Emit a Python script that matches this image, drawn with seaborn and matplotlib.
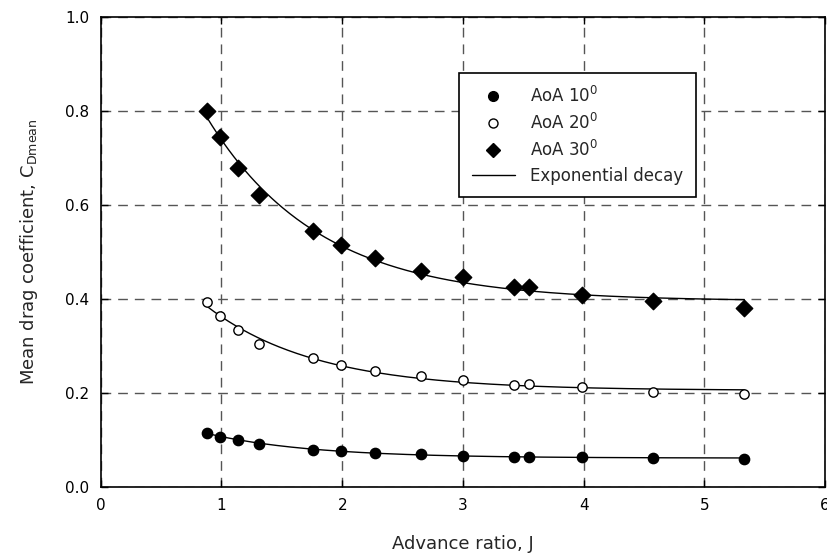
import numpy as np
import pandas as pd
import matplotlib
matplotlib.use("Agg")
import matplotlib.pyplot as plt
import seaborn as sns
from matplotlib.lines import Line2D

# ---- data ----
advance_ratio = [0.88, 0.99, 1.14, 1.31, 1.76, 1.99, 2.27, 2.65, 3.00, 3.42, 3.55, 3.99, 4.57, 5.33]
cd_aoa10 = [0.115, 0.106, 0.099, 0.091, 0.078, 0.076, 0.072, 0.069, 0.066, 0.063, 0.064, 0.063, 0.060, 0.059]
cd_aoa20 = [0.393, 0.362, 0.334, 0.304, 0.273, 0.259, 0.245, 0.236, 0.227, 0.217, 0.219, 0.212, 0.202, 0.197]
cd_aoa30 = [0.799, 0.745, 0.679, 0.621, 0.545, 0.515, 0.486, 0.459, 0.445, 0.425, 0.425, 0.408, 0.396, 0.380]
series_names = ["AoA 10", "AoA 20", "AoA 30"]
x_ticks = [0, 1, 2, 3, 4, 5, 6]
y_ticks = [0.0, 0.2, 0.4, 0.6, 0.8, 1.0]

df = pd.DataFrame({
    "J": advance_ratio * 3,
    "Cd": cd_aoa10 + cd_aoa20 + cd_aoa30,
    "series": [s for s in series_names for _ in advance_ratio],
})


def fit_exp_decay(x, y):
    """Least-squares fit y = y0 + a*exp(-b x) (grid over b)."""
    x = np.asarray(x); y = np.asarray(y)
    best = None
    for b in np.linspace(0.05, 5, 2000):
        A = np.column_stack([np.ones_like(x), np.exp(-b * x)])
        coef, *_ = np.linalg.lstsq(A, y, rcond=None)
        r = np.sum((A @ coef - y) ** 2)
        if best is None or r < best[0]:
            best = (r, b, coef)
    _, b, coef = best
    return lambda t: coef[0] + coef[1] * np.exp(-b * t)


fit_rows = []
for name, vals in zip(series_names, [cd_aoa10, cd_aoa20, cd_aoa30]):
    f = fit_exp_decay(advance_ratio, vals)
    xs = np.linspace(min(advance_ratio), max(advance_ratio), 300)
    fit_rows.append(pd.DataFrame({"J": xs, "Cd": f(xs), "series": name}))
fit_df = pd.concat(fit_rows)

sns.set_style("ticks")
plt.rcParams["font.family"] = ["DejaVu Sans"]
plt.rcParams["mathtext.fontset"] = "dejavusans"

fig = plt.figure(figsize=(8.27, 5.58), dpi=100)
ax = fig.add_axes([0.1218, 0.128, 0.876, 0.842])

sns.lineplot(data=fit_df, x="J", y="Cd", units="series", estimator=None,
             color="black", linewidth=1.0, ax=ax, legend=False, zorder=3)

marker_styles = {"AoA 10": dict(marker="o", s=55, facecolor="black"),
                 "AoA 20": dict(marker="o", s=45, facecolor="white"),
                 "AoA 30": dict(marker="D", s=70, facecolor="black")}
for name in series_names:
    sub = df[df["series"] == name]
    st = marker_styles[name]
    sns.scatterplot(data=sub, x="J", y="Cd", marker=st["marker"], s=st["s"],
                    color=st["facecolor"], edgecolor="black", linewidth=1.0,
                    ax=ax, legend=False, zorder=4)

ax.set_xlim(0, 6)
ax.set_ylim(0, 1.0)
ax.set_xticks(x_ticks)
ax.set_xticklabels([str(t) for t in x_ticks])
ax.set_yticks(y_ticks)
ax.set_yticklabels([f"{t:.1f}" for t in y_ticks])
ax.grid(True, color="#555555", linestyle=(0, (7, 5)), linewidth=1.0)
ax.set_axisbelow(True)
for sp in ax.spines.values():
    sp.set_visible(True)
    sp.set_linewidth(1.2)
    sp.set_color("black")
ax.tick_params(direction="in", length=5, width=1, top=True, right=True,
               labelsize=11, pad=8, colors="black")

ax.set_xlabel("Advance ratio, J", fontsize=13, labelpad=16)
ax.set_ylabel(r"Mean drag coefficient, C$_\mathregular{Dmean}$", fontsize=13, labelpad=18)

handles = [
    Line2D([], [], marker="o", linestyle="none", markersize=7, markerfacecolor="black", markeredgecolor="black"),
    Line2D([], [], marker="o", linestyle="none", markersize=6.5, markerfacecolor="white", markeredgecolor="black"),
    Line2D([], [], marker="D", linestyle="none", markersize=7.5, markerfacecolor="black", markeredgecolor="black"),
    Line2D([], [], color="black", linewidth=1.0),
]
labels = [r"AoA 10$^\mathregular{0}$", r"AoA 20$^\mathregular{0}$", r"AoA 30$^\mathregular{0}$", "Exponential decay"]
leg = ax.legend(handles, labels, loc="upper left", bbox_to_anchor=(0.495, 0.88),
                frameon=True, fancybox=False, fontsize=12, handlelength=2.6,
                labelspacing=0.42, borderpad=0.75, handletextpad=0.9,
                borderaxespad=0)
leg.get_frame().set_edgecolor("black")
leg.get_frame().set_linewidth(1.2)
leg.get_frame().set_alpha(1)

fig.savefig("out.png", dpi=100)
